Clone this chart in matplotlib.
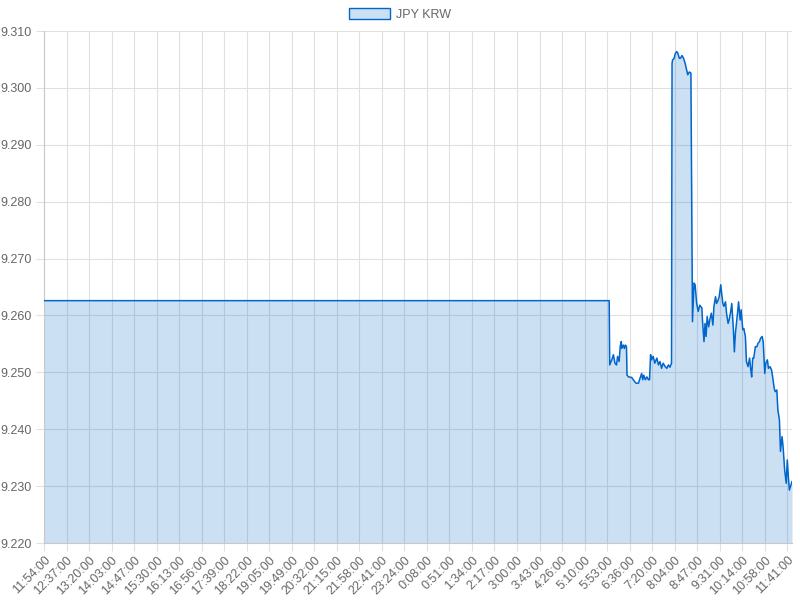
import matplotlib
matplotlib.use("Agg")
import matplotlib.pyplot as plt
from matplotlib.patches import Patch
import numpy as np

# x tick labels (every 43rd point of the minute series)
tick_labels = ["11:54:00", "12:37:00", "13:20:00", "14:03:00", "14:47:00", "15:30:00",
               "16:13:00", "16:56:00", "17:39:00", "18:22:00", "19:05:00", "19:49:00",
               "20:32:00", "21:15:00", "21:58:00", "22:41:00", "23:24:00", "0:08:00",
               "0:51:00", "1:34:00", "2:17:00", "3:00:00", "3:43:00", "4:26:00",
               "5:10:00", "5:53:00", "6:36:00", "7:20:00", "8:04:00", "8:47:00",
               "9:31:00", "10:14:00", "10:58:00", "11:41:00"]
tick_step = 43

# point index / rate
idx = [0, 1079, 1080, 1084, 1087, 1090, 1093, 1095, 1098, 1100, 1102, 1103, 1106, 1108,
       1110, 1112, 1113, 1116, 1122, 1125, 1130, 1135, 1138, 1141, 1143, 1145, 1148,
       1151, 1154, 1156, 1158, 1160, 1163, 1166, 1170, 1173, 1176, 1179, 1182, 1186,
       1189, 1192, 1195, 1198, 1199, 1200, 1203, 1205, 1208, 1210, 1213, 1215, 1218,
       1221, 1224, 1227, 1229, 1232, 1235, 1238, 1241, 1243, 1246, 1249, 1252, 1256,
       1257, 1260, 1262, 1264, 1266, 1269, 1271, 1274, 1277, 1279, 1282, 1284, 1287,
       1289, 1292, 1294, 1296, 1298, 1301, 1303, 1306, 1308, 1311, 1313, 1316, 1318,
       1320, 1324, 1326, 1329, 1331, 1334, 1336, 1339, 1341, 1344, 1347, 1349, 1351,
       1353, 1355, 1358, 1361, 1363, 1366, 1368, 1371, 1373, 1376, 1378, 1381, 1383,
       1386, 1389, 1391, 1394, 1396, 1399, 1401, 1404, 1406, 1409, 1411, 1414, 1417,
       1419, 1421, 1423, 1425, 1428]
rate = [9.2626, 9.2626, 9.2513, 9.2522, 9.2531, 9.2516, 9.2513, 9.2528, 9.2519, 9.2545,
        9.2554, 9.2542, 9.2548, 9.2542, 9.2548, 9.2545, 9.2495, 9.2492, 9.2491, 9.2487,
        9.2481, 9.2481, 9.2490, 9.2498, 9.2487, 9.2495, 9.2487, 9.2492, 9.2487, 9.2487,
        9.2531, 9.2522, 9.2528, 9.2516, 9.2525, 9.2513, 9.2519, 9.2507, 9.2516, 9.2510,
        9.2507, 9.2513, 9.2509, 9.2516, 9.3043, 9.3049, 9.3052, 9.3060, 9.3064, 9.3061,
        9.3052, 9.3052, 9.3057, 9.3052, 9.3043, 9.3031, 9.3023, 9.3028, 9.3026, 9.2589,
        9.2657, 9.2654, 9.2621, 9.2607, 9.2618, 9.2613, 9.2592, 9.2554, 9.2586, 9.2563,
        9.2598, 9.2580, 9.2592, 9.2604, 9.2583, 9.2616, 9.2633, 9.2621, 9.2627, 9.2633,
        9.2654, 9.2636, 9.2621, 9.2616, 9.2624, 9.2604, 9.2586, 9.2592, 9.2607, 9.2621,
        9.2577, 9.2536, 9.2569, 9.2604, 9.2624, 9.2592, 9.2610, 9.2575, 9.2577, 9.2563,
        9.2519, 9.2510, 9.2525, 9.2507, 9.2492, 9.2525, 9.2525, 9.2545, 9.2545, 9.2551,
        9.2554, 9.2560, 9.2563, 9.2554, 9.2498, 9.2516, 9.2522, 9.2507, 9.2510, 9.2504,
        9.2492, 9.2472, 9.2466, 9.2469, 9.2434, 9.2416, 9.2361, 9.2387, 9.2369, 9.2328,
        9.2305, 9.2346, 9.2317, 9.2293, 9.2299, 9.2308]

y_min, y_max = 9.220, 9.310

plt.rcParams['font.family'] = ['Liberation Sans', 'DejaVu Sans']
text_color = "#666666"
grid_color = "#e0e0e0"
line_color = "#0066cc"
fill_rgba = (0.0, 0.4, 0.8, 0.2)

fig = plt.figure(figsize=(8, 6), dpi=100)
ax = fig.add_axes([0.055, 0.095, 0.935, 0.8533])

ax.fill_between(idx, rate, y_min, color=fill_rgba, linewidth=0, zorder=2)
ax.plot(idx, rate, color=line_color, linewidth=1.1, zorder=3, label="JPY KRW")

ax.set_xlim(0, idx[-1])
ax.set_ylim(y_min, y_max)

ticks = np.arange(len(tick_labels)) * tick_step
ax.set_xticks(ticks)
ax.set_xticklabels(tick_labels, rotation=45, ha="right", rotation_mode="anchor")
yticks = np.arange(9.220, 9.3101, 0.010)
ax.set_yticks(yticks)
ax.set_yticklabels([f"{v:.3f}" for v in yticks])

ax.grid(True, color=grid_color, linewidth=0.8, zorder=1)
ax.set_axisbelow(True)
for side in ["top", "right"]:
    ax.spines[side].set_visible(False)
for side in ["left", "bottom"]:
    ax.spines[side].set_color("#c8c8c8")
    ax.spines[side].set_linewidth(0.8)
ax.tick_params(axis="both", colors=grid_color, labelcolor=text_color, labelsize=9, length=6,
               width=0.8)
ax.tick_params(axis="x", pad=2)
ax.tick_params(axis="y", pad=3)

# legend box
handle = Patch(facecolor=fill_rgba, edgecolor=line_color, linewidth=1)
fig.legend([handle], ["JPY KRW"], loc="upper center", bbox_to_anchor=(0.5, 1.005),
           frameon=False, fontsize=9, handlelength=3.3, handleheight=1.0,
           handletextpad=0.5, labelcolor=text_color)

fig.savefig("out.png", dpi=100)
